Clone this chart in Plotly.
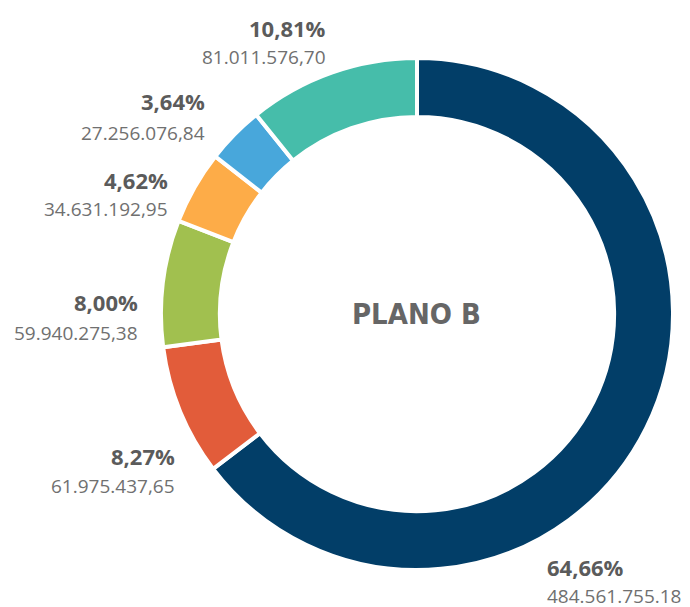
import plotly.graph_objects as go

W, H = 690, 607

# ---- data ----
categories = ["A", "B", "C", "D", "E", "F"]
values = [484561755.18, 61975437.65, 59940275.38, 34631192.95, 27256076.84, 81011576.70]
value_labels = ["484.561.755.18", "61.975.437,65", "59.940.275,38",
                "34.631.192,95", "27.256.076,84", "81.011.576,70"]
colors = ["#023e68", "#e25c3a", "#a1c04f", "#fdac48", "#48a7db", "#46bdaa"]
center_text = "PLANO B"

# ---- label layout (pixels): anchor x, pct y, value y, side ----
label_pos = [
    (545, 567, 596, "left"),
    (177, 456, 486, "right"),
    (140, 302, 333, "right"),
    (170, 180, 209, "right"),
    (207, 101, 133, "right"),
    (328, 28, 57, "right"),
]

total = sum(values)
pct_labels = [f"{v / total * 100:.2f}%".replace(".", ",") for v in values]

cx, cy, R = 417, 314, 256
fig = go.Figure(go.Pie(
    labels=categories,
    values=values,
    sort=False,
    direction="clockwise",
    rotation=0,
    hole=0.77,
    textinfo="none",
    hoverinfo="label+percent+value",
    marker=dict(colors=colors, line=dict(color="white", width=4)),
    domain=dict(x=[(cx - R) / W, (cx + R) / W],
                y=[1 - (cy + R) / H, 1 - (cy - R) / H]),
    showlegend=False,
))

annotations = []
for (px, py_pct, py_val, side), pct, val in zip(label_pos, pct_labels, value_labels):
    annotations.append(dict(
        x=px / W, y=1 - py_pct / H, xref="paper", yref="paper",
        xanchor=side, yanchor="middle", showarrow=False, text=f"<b>{pct}</b>",
        font=dict(family="Open Sans", size=22, color="#5b5b5b")))
    annotations.append(dict(
        x=px / W, y=1 - py_val / H, xref="paper", yref="paper",
        xanchor=side, yanchor="middle", showarrow=False, text=val,
        font=dict(family="Open Sans", size=19, color="#707070")))

annotations.append(dict(
    x=cx / W, y=1 - cy / H, xref="paper", yref="paper",
    xanchor="center", yanchor="middle", showarrow=False,
    text=f"<b>{center_text}</b>",
    font=dict(family="DejaVu Sans Condensed", size=29, color="#666666")))

fig.update_layout(
    width=W, height=H,
    margin=dict(l=0, r=0, t=0, b=0),
    paper_bgcolor="white", plot_bgcolor="white",
    annotations=annotations,
)

fig.write_html(
    "out.html",
    config={"displayModeBar": False},
    post_script="document.body.style.margin='0';document.body.style.overflow='hidden';",
)
